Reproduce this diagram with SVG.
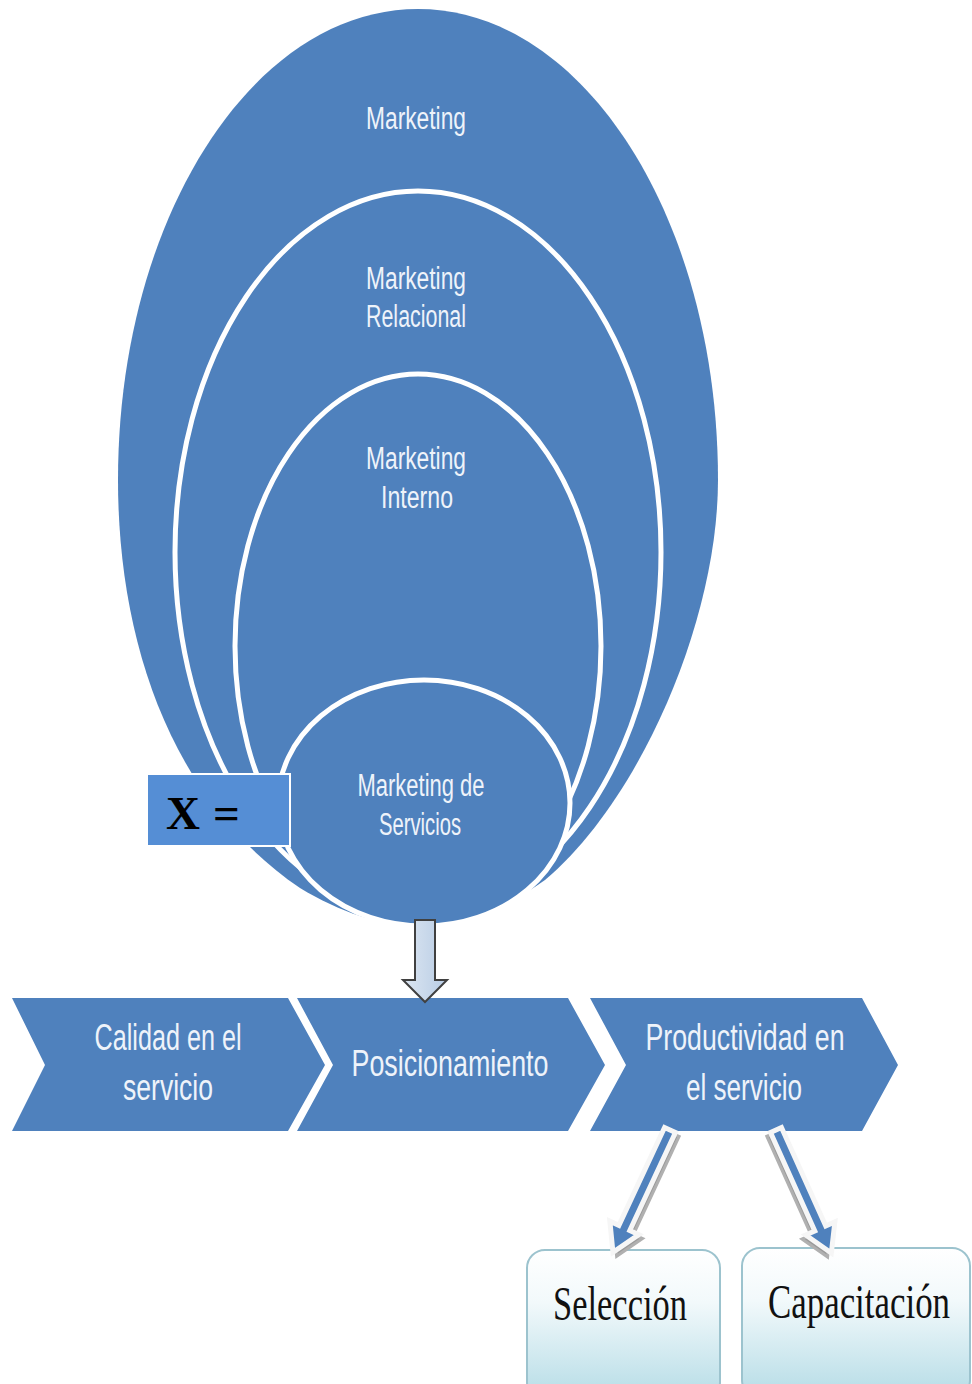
<svg xmlns="http://www.w3.org/2000/svg" width="972" height="1384" viewBox="0 0 972 1384">
<defs>
<style>
.blue{fill:#4F81BD}
.ring{fill:#4F81BD;stroke:#FFFFFF;stroke-width:5}
.ct{font-family:"Liberation Sans",Arial,sans-serif;font-size:31px;fill:#EEF3FA;text-anchor:middle}
.cv{font-family:"Liberation Sans",Arial,sans-serif;font-size:37px;fill:#EEF3FA;text-anchor:middle}
.bt{font-family:"Liberation Serif","Times New Roman",serif;font-size:48px;fill:#111111;text-anchor:middle}
.xl{font-family:"Liberation Serif","Times New Roman",serif;font-size:47px;font-weight:bold;fill:#000000}
</style>
<linearGradient id="boxg" x1="0" y1="0" x2="0" y2="1">
<stop offset="0" stop-color="#FFFFFF"/>
<stop offset="0.35" stop-color="#F2F9FB"/>
<stop offset="1" stop-color="#B5DCE6"/>
</linearGradient>
<linearGradient id="downg" x1="0" y1="0" x2="1" y2="0">
<stop offset="0" stop-color="#DCE6F2"/>
<stop offset="1" stop-color="#B8CCE4"/>
</linearGradient>
<path id="diag" d="M0,-6 L108,-6 L108,-16 L135,0 L108,16 L108,6 L0,6 Z"/>
</defs>
<rect x="0" y="0" width="972" height="1384" fill="#FFFFFF"/>

<g id="marketing">
<path class="blue" d="M418,9 C252,9 118,220 118,480 C118,640 170,800 300,888 C340,912 380,926 420,926 C460,926 500,912 545,880 C640,800 718,620 718,480 C718,220 584,9 418,9 Z"/>
<text class="ct" x="416" y="129" textLength="100" lengthAdjust="spacingAndGlyphs">Marketing</text>
</g>

<g id="marketing-relacional">
<ellipse class="ring" cx="418" cy="552" rx="243" ry="361"/>
<text class="ct" x="416" y="289" textLength="100" lengthAdjust="spacingAndGlyphs">Marketing</text>
<text class="ct" x="416" y="327" textLength="100" lengthAdjust="spacingAndGlyphs">Relacional</text>
</g>

<g id="marketing-interno">
<ellipse class="ring" cx="418" cy="646" rx="183" ry="272"/>
<text class="ct" x="416" y="469" textLength="100" lengthAdjust="spacingAndGlyphs">Marketing</text>
<text class="ct" x="417" y="508" textLength="72" lengthAdjust="spacingAndGlyphs">Interno</text>
</g>

<g id="marketing-servicios">
<ellipse class="ring" cx="424" cy="803" rx="146" ry="123"/>
<text class="ct" x="421" y="796" textLength="127" lengthAdjust="spacingAndGlyphs">Marketing de</text>
<text class="ct" x="420" y="835" textLength="82" lengthAdjust="spacingAndGlyphs">Servicios</text>
</g>

<g id="x-label">
<rect x="147" y="774" width="143" height="72" fill="#558ED5" stroke="#FFFFFF" stroke-width="2"/>
<text class="xl" y="829"><tspan x="166">X</tspan><tspan x="213">=</tspan></text>
</g>

<g id="calidad">
<path class="blue" d="M12,998 L288,998 L325,1065 L288,1131 L12,1131 L45,1065 Z"/>
<text class="cv" x="168" y="1050" textLength="147" lengthAdjust="spacingAndGlyphs">Calidad en el</text>
<text class="cv" x="168" y="1100" textLength="90" lengthAdjust="spacingAndGlyphs">servicio</text>
</g>

<g id="posicionamiento">
<path class="blue" d="M297,998 L568,998 L605,1065 L568,1131 L297,1131 L333,1065 Z"/>
<text class="cv" x="450" y="1076" textLength="197" lengthAdjust="spacingAndGlyphs">Posicionamiento</text>
</g>

<g id="productividad">
<path class="blue" d="M590,998 L862,998 L898,1065 L862,1131 L590,1131 L626,1065 Z"/>
<text class="cv" x="745" y="1050" textLength="199" lengthAdjust="spacingAndGlyphs">Productividad en</text>
<text class="cv" x="744" y="1100" textLength="116" lengthAdjust="spacingAndGlyphs">el servicio</text>
</g>

<g id="seleccion">
<rect x="527" y="1250" width="193" height="150" rx="18" fill="url(#boxg)" stroke="#9CC3CE" stroke-width="2"/>
<text class="bt" x="620" y="1320" textLength="134" lengthAdjust="spacingAndGlyphs">Selección</text>
</g>

<g id="capacitacion">
<rect x="742" y="1248" width="228" height="150" rx="18" fill="url(#boxg)" stroke="#9CC3CE" stroke-width="2"/>
<text class="bt" x="859" y="1318" textLength="182" lengthAdjust="spacingAndGlyphs">Capacitación</text>
</g>

<g id="connectors">
<path d="M415,920 L435,920 L435,980 L447,980 L425,1002 L403,980 L415,980 Z" fill="url(#downg)" stroke="#404040" stroke-width="2" stroke-linejoin="miter"/>
<g transform="translate(670,1130) rotate(115)">
<use href="#diag" transform="translate(2,-5)" fill="#9A9A9A" stroke="#B0B0B0" stroke-width="3"/>
<use href="#diag" fill="#4F81BD" stroke="#F6F6F6" stroke-width="5" stroke-linejoin="miter"/>
</g>
<g transform="translate(776,1130) rotate(65.8)">
<use href="#diag" transform="translate(2,5)" fill="#9A9A9A" stroke="#B0B0B0" stroke-width="3"/>
<use href="#diag" fill="#4F81BD" stroke="#F6F6F6" stroke-width="5" stroke-linejoin="miter"/>
</g>
</g>
</svg>
